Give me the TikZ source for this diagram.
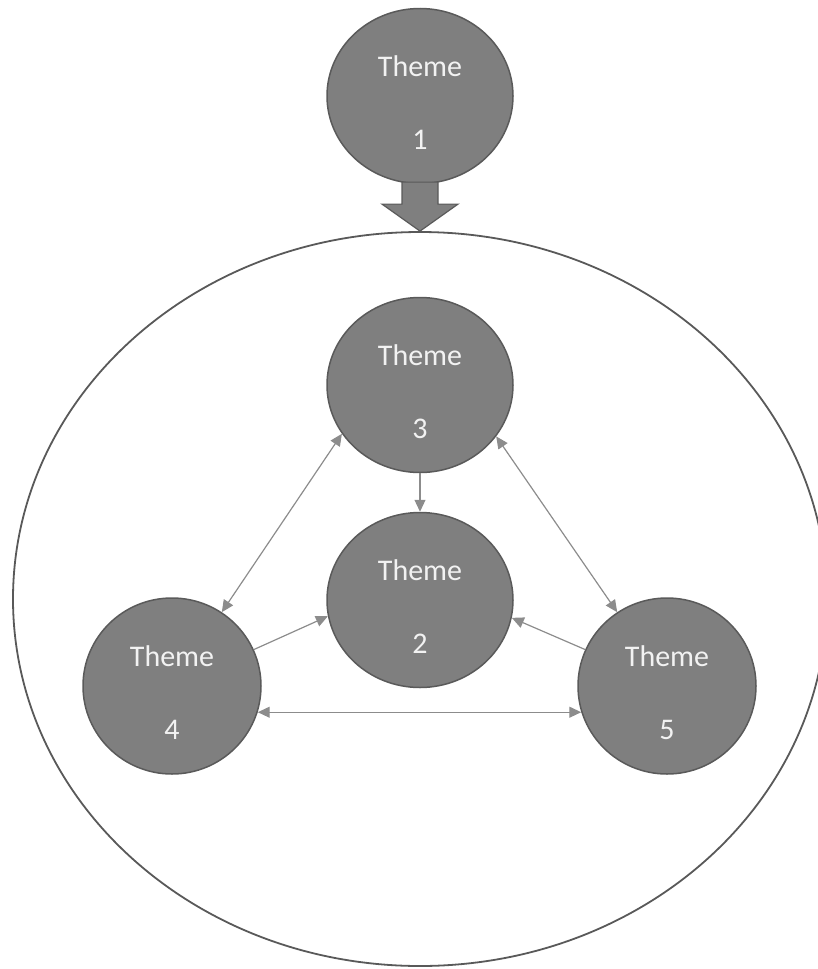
\documentclass[tikz,border=0pt]{standalone}
\usepackage{fontspec}
\setmainfont{Carlito}
\usetikzlibrary{shapes.geometric,arrows.meta,calc}
\definecolor{themefill}{HTML}{7F7F7F}
\definecolor{themeedge}{HTML}{5A5A5A}
\definecolor{linkgray}{HTML}{8C8C8C}
\definecolor{outer}{HTML}{595959}
\definecolor{txt}{HTML}{F2F2F2}
\tikzset{
  theme/.style={ellipse, draw=themeedge, fill=themefill, line width=1.5pt, inner sep=0pt},
  big/.style={theme, minimum width=186pt, minimum height=175pt},
  small/.style={theme, minimum width=178pt, minimum height=176pt},
  ttext/.style={text=txt, font=\fontsize{30}{36}\selectfont, inner sep=0pt, anchor=center},
  link/.style={draw=linkgray, line width=1.2pt, -{Triangle[length=12pt,width=11pt]}},
  dlink/.style={draw=linkgray, line width=1.2pt, {Triangle[length=12pt,width=11pt]}-{Triangle[length=12pt,width=11pt]}},
}
\begin{document}
\begin{tikzpicture}[x=1pt,y=-1pt]
\useasboundingbox (0,0) rectangle (817,969);
% outer ellipse
\node[ellipse, draw=outer, line width=1.8pt, minimum width=814pt, minimum height=734pt, inner sep=0pt] (outerE) at (420,599) {};
% themes
\node[big] (n1) at (420,96) {};
\node[big] (n3) at (420,385) {};
\node[big] (n2) at (420,600) {};
\node[small] (n4) at (172,686) {};
\node[small] (n5) at (667,686) {};
% texts
\foreach \n/\d in {n1/1,n3/3,n2/2,n4/4,n5/5}{
  \node[ttext] (\n t) at ($(\n)+(0,-30)$) {Theme};
  \node[ttext] (\n d) at ($(\n)+(0,44)$) {\d};
}
% block arrow from theme 1 to outer ellipse
\coordinate (tip) at (outerE.north);
\draw[draw=themeedge, fill=themefill, line width=1.2pt, line join=miter]
  ($(tip)+(-18,-49)$) -- ($(tip)+(18,-49)$) -- ($(tip)+(18,-27)$) -- ($(tip)+(38,-27)$)
  -- (tip) -- ($(tip)+(-38,-27)$) -- ($(tip)+(-18,-27)$) -- cycle;
% links
\draw[link] (n3.south) -- (n2.north);
\draw[dlink] (n3.212) -- (n4.56);
\draw[dlink] (n3.326.6) -- (n5.124);
\draw[link] (n4.24) -- (n2.190.5);
\draw[link] (n5.156) -- (n2.349.5);
\draw[dlink] (n4.-17.5) -- (n5.197.5);
\end{tikzpicture}
\end{document}
